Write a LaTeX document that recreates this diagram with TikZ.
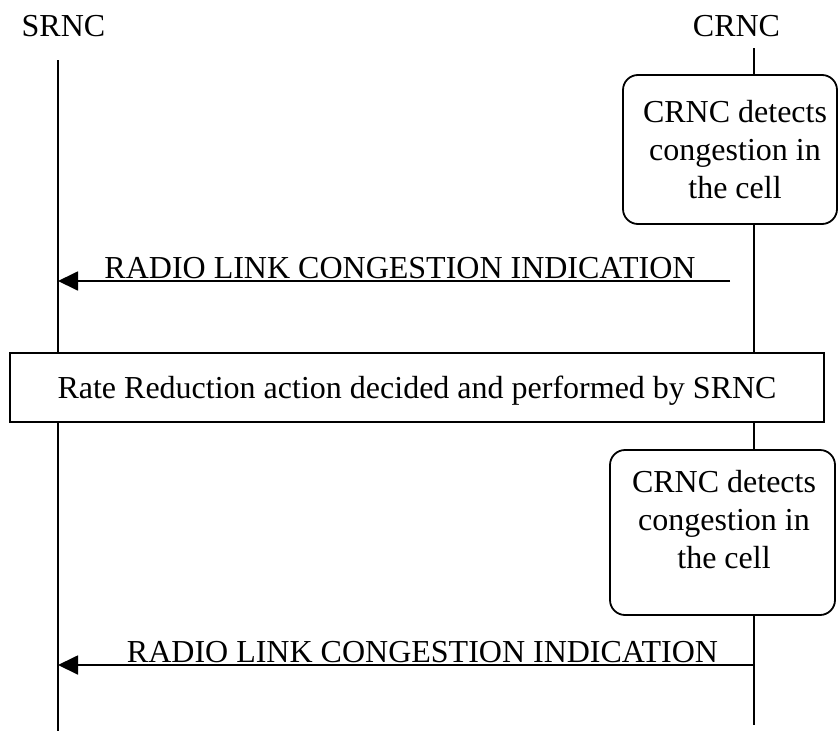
\documentclass[tikz,border=0pt]{standalone}
\usepackage{fontspec}
\setmainfont{Liberation Serif}
\usetikzlibrary{arrows.meta}
\begin{document}
\begin{tikzpicture}[x=1pt,y=-1pt,
  every node/.style={font=\fontsize{32}{38}\selectfont, inner sep=0pt, outer sep=0pt},
  life/.style={line width=1.8pt},
  msg/.style={line width=1.8pt, -{Triangle[length=20pt,width=19pt]}},
  procbox/.style={draw, line width=1.8pt, fill=white, rounded corners=15pt},
  actbox/.style={draw, line width=1.8pt, fill=white},
  txt/.style={align=center, text depth=0pt}]
\useasboundingbox (0,0) rectangle (838,731);
% entity labels
\node[anchor=base] (srnc) at (63.5,36) {SRNC};
\node[anchor=base] (crnc) at (736.5,36) {CRNC};
% lifelines
\coordinate (lt) at (58,60);
\coordinate (lb) at (58,731);
\coordinate (rt) at (754,48);
\coordinate (rb) at (754,725);
\draw[life] (lt) -- (lb);
\draw[life] (rt) -- (rb);
% first detection box
\node[procbox, minimum width=214pt, minimum height=149pt] (b1) at (730,149.5) {};
\node[txt] (t1) at (735,149.5) {CRNC detects\\congestion in\\the cell};
% first message
\coordinate (m1s) at (730,281);
\coordinate (m1e) at (58,281);
\draw[msg] (m1s) -- (m1e);
\node[anchor=base] (l1) at (400,278) {RADIO LINK CONGESTION INDICATION};
% action box
\node[actbox, txt, minimum width=814pt, minimum height=69pt] (act) at (417,387.5) {Rate Reduction action decided and performed by SRNC};
% second detection box
\node[procbox, minimum width=225pt, minimum height=165pt] (b2) at (722.5,532.5) {};
\node[txt] (t2) at (724,519.5) {CRNC detects\\congestion in\\the cell};
% second message
\coordinate (m2s) at (754,665);
\coordinate (m2e) at (58,665);
\draw[msg] (m2s) -- (m2e);
\node[anchor=base] (l2) at (422.5,662) {RADIO LINK CONGESTION INDICATION};
\end{tikzpicture}
\end{document}
